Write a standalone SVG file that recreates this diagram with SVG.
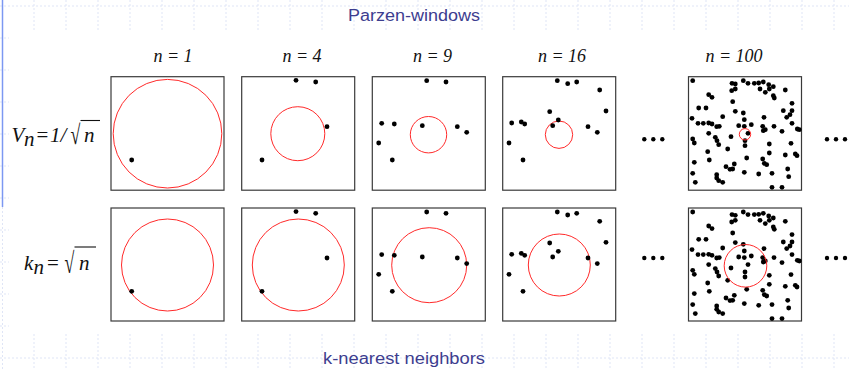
<svg xmlns="http://www.w3.org/2000/svg" xmlns:xlink="http://www.w3.org/1999/xlink" width="849" height="370" viewBox="0 0 849 370">
<style>
.grid{stroke:#dfe5f6;stroke-width:1;stroke-dasharray:2 2;fill:none}
.box{fill:#fff;stroke:#3a3a3a;stroke-width:1.2}
.win{fill:none;stroke:#ff2a2a;stroke-width:1}
.dot{fill:#000}
.title{font-family:"Liberation Sans",Arial,sans-serif;font-size:16px;fill:#3d3d8f}
.lab{font-family:"Liberation Serif","Times New Roman",serif;font-style:italic;font-size:18px;fill:#111}
.math{font-family:"Liberation Serif","Times New Roman",serif;font-size:21px;fill:#111}
.it{font-style:italic}
</style>
<defs>
<g id="d1"><circle class="dot" cx="20.7" cy="83.3" r="2.4"/></g>
<g id="d4">
<circle class="dot" cx="54.3" cy="3.6" r="2.4"/><circle class="dot" cx="74" cy="5.3" r="2.4"/>
<circle class="dot" cx="85.3" cy="50" r="2.4"/><circle class="dot" cx="20.3" cy="83.3" r="2.4"/>
</g>
<g id="d9">
<circle class="dot" cx="54.4" cy="4" r="2.4"/><circle class="dot" cx="73.7" cy="5.3" r="2.4"/>
<circle class="dot" cx="9.4" cy="46.6" r="2.4"/><circle class="dot" cx="22" cy="47.3" r="2.4"/>
<circle class="dot" cx="50" cy="49" r="2.4"/><circle class="dot" cx="85" cy="50" r="2.4"/>
<circle class="dot" cx="94.4" cy="55.6" r="2.4"/><circle class="dot" cx="6.4" cy="66.3" r="2.4"/>
<circle class="dot" cx="20" cy="83.3" r="2.4"/>
</g>
<g id="d16">
<circle class="dot" cx="54.6" cy="4" r="2.4"/><circle class="dot" cx="65" cy="7" r="2.4"/>
<circle class="dot" cx="74" cy="5.3" r="2.4"/><circle class="dot" cx="97" cy="13.3" r="2.4"/>
<circle class="dot" cx="103.3" cy="34.3" r="2.4"/><circle class="dot" cx="47" cy="35" r="2.4"/>
<circle class="dot" cx="55.6" cy="43.3" r="2.4"/><circle class="dot" cx="9" cy="46.3" r="2.4"/>
<circle class="dot" cx="18.6" cy="45.3" r="2.4"/><circle class="dot" cx="22" cy="47.3" r="2.4"/>
<circle class="dot" cx="50" cy="49" r="2.4"/><circle class="dot" cx="85.3" cy="50" r="2.4"/>
<circle class="dot" cx="94.6" cy="55.6" r="2.4"/><circle class="dot" cx="6.3" cy="66.3" r="2.4"/>
<circle class="dot" cx="20.3" cy="83.3" r="2.4"/>
</g>
<g id="d100">
<circle class="dot" cx="4.2" cy="4" r="2.4"/><circle class="dot" cx="43.5" cy="6.6" r="2.4"/>
<circle class="dot" cx="46.8" cy="7.3" r="2.4"/><circle class="dot" cx="54.8" cy="4" r="2.4"/>
<circle class="dot" cx="59.5" cy="6.6" r="2.4"/><circle class="dot" cx="65.8" cy="6.6" r="2.4"/>
<circle class="dot" cx="70.2" cy="6.3" r="2.4"/><circle class="dot" cx="74.8" cy="5.3" r="2.4"/>
<circle class="dot" cx="80.2" cy="8" r="2.4"/><circle class="dot" cx="84.8" cy="10" r="2.4"/>
<circle class="dot" cx="43.2" cy="14" r="2.4"/><circle class="dot" cx="46.8" cy="12.3" r="2.4"/>
<circle class="dot" cx="71.5" cy="12.3" r="2.4"/><circle class="dot" cx="76.8" cy="15.6" r="2.4"/>
<circle class="dot" cx="80.8" cy="12.3" r="2.4"/><circle class="dot" cx="84.8" cy="19" r="2.4"/>
<circle class="dot" cx="85.8" cy="21.3" r="2.4"/><circle class="dot" cx="96.8" cy="13.3" r="2.4"/>
<circle class="dot" cx="20.2" cy="18" r="2.4"/><circle class="dot" cx="23.5" cy="20.6" r="2.4"/>
<circle class="dot" cx="44.2" cy="25" r="2.4"/><circle class="dot" cx="103.5" cy="26.6" r="2.4"/>
<circle class="dot" cx="10.2" cy="31.3" r="2.4"/><circle class="dot" cx="17.5" cy="31.3" r="2.4"/>
<circle class="dot" cx="46.8" cy="34.6" r="2.4"/><circle class="dot" cx="54.8" cy="36.3" r="2.4"/>
<circle class="dot" cx="94.8" cy="34" r="2.4"/><circle class="dot" cx="103.5" cy="34" r="2.4"/>
<circle class="dot" cx="101.5" cy="38" r="2.4"/><circle class="dot" cx="3.5" cy="41.6" r="2.4"/>
<circle class="dot" cx="34.2" cy="40" r="2.4"/><circle class="dot" cx="55.8" cy="43" r="2.4"/>
<circle class="dot" cx="75.5" cy="40.6" r="2.4"/><circle class="dot" cx="98.2" cy="40.6" r="2.4"/>
<circle class="dot" cx="103.5" cy="46.6" r="2.4"/><circle class="dot" cx="9.5" cy="46.6" r="2.4"/>
<circle class="dot" cx="14.8" cy="46.6" r="2.4"/><circle class="dot" cx="20.2" cy="46.3" r="2.4"/>
<circle class="dot" cx="23.5" cy="47.3" r="2.4"/><circle class="dot" cx="28.2" cy="50" r="2.4"/>
<circle class="dot" cx="30.8" cy="49.6" r="2.4"/><circle class="dot" cx="50.2" cy="49" r="2.4"/>
<circle class="dot" cx="55.8" cy="49.6" r="2.4"/><circle class="dot" cx="62.8" cy="48" r="2.4"/>
<circle class="dot" cx="74.2" cy="49.6" r="2.4"/><circle class="dot" cx="76.8" cy="53" r="2.4"/>
<circle class="dot" cx="85.5" cy="49.6" r="2.4"/><circle class="dot" cx="108.8" cy="52.3" r="2.4"/>
<circle class="dot" cx="110.8" cy="53" r="2.4"/><circle class="dot" cx="20.2" cy="56.6" r="2.4"/>
<circle class="dot" cx="26.8" cy="60.6" r="2.4"/><circle class="dot" cx="42.5" cy="60" r="2.4"/>
<circle class="dot" cx="59.5" cy="56.6" r="2.4"/><circle class="dot" cx="74.8" cy="54" r="2.4"/>
<circle class="dot" cx="93.5" cy="54.6" r="2.4"/><circle class="dot" cx="4.2" cy="62.3" r="2.4"/>
<circle class="dot" cx="5.8" cy="66.3" r="2.4"/><circle class="dot" cx="28.5" cy="64" r="2.4"/>
<circle class="dot" cx="30.2" cy="68" r="2.4"/><circle class="dot" cx="56.5" cy="64" r="2.4"/>
<circle class="dot" cx="56.5" cy="69" r="2.4"/><circle class="dot" cx="80.8" cy="67.3" r="2.4"/>
<circle class="dot" cx="102.5" cy="66.6" r="2.4"/><circle class="dot" cx="39.2" cy="72.3" r="2.4"/>
<circle class="dot" cx="19.2" cy="75" r="2.4"/><circle class="dot" cx="80.8" cy="76.3" r="2.4"/>
<circle class="dot" cx="96.8" cy="78.3" r="2.4"/><circle class="dot" cx="106.8" cy="77.3" r="2.4"/>
<circle class="dot" cx="108.5" cy="79" r="2.4"/><circle class="dot" cx="20.8" cy="83.3" r="2.4"/>
<circle class="dot" cx="5.8" cy="85.6" r="2.4"/><circle class="dot" cx="58.2" cy="81.3" r="2.4"/>
<circle class="dot" cx="74.2" cy="82.3" r="2.4"/><circle class="dot" cx="75.8" cy="86.6" r="2.4"/>
<circle class="dot" cx="78.2" cy="88" r="2.4"/><circle class="dot" cx="45.8" cy="87.3" r="2.4"/>
<circle class="dot" cx="37.5" cy="90" r="2.4"/><circle class="dot" cx="44.2" cy="92.3" r="2.4"/>
<circle class="dot" cx="41.5" cy="92.6" r="2.4"/><circle class="dot" cx="55.8" cy="95.6" r="2.4"/>
<circle class="dot" cx="4.2" cy="96.6" r="2.4"/><circle class="dot" cx="28.2" cy="98" r="2.4"/>
<circle class="dot" cx="70.2" cy="97.3" r="2.4"/><circle class="dot" cx="83.5" cy="96.6" r="2.4"/>
<circle class="dot" cx="99.2" cy="92.3" r="2.4"/><circle class="dot" cx="100.2" cy="100" r="2.4"/>
<circle class="dot" cx="30.2" cy="104" r="2.4"/><circle class="dot" cx="28.2" cy="101.3" r="2.4"/>
<circle class="dot" cx="34.2" cy="105.6" r="2.4"/><circle class="dot" cx="6.8" cy="105.6" r="2.4"/>
<circle class="dot" cx="83.5" cy="110.6" r="2.4"/><circle class="dot" cx="93.5" cy="110.6" r="2.4"/>
</g>
<g id="ell"><circle class="dot" cx="0" cy="0" r="2.2"/><circle class="dot" cx="9" cy="0" r="2.2"/><circle class="dot" cx="18" cy="0" r="2.2"/></g>
</defs>

<rect x="0" y="0" width="849" height="370" fill="#fff"/>

<g id="background">
<path class="grid" d="M34 0V30M66 0V30M98 0V30M130 0V30M162 0V30M194 0V30M226 0V30M258 0V30M290 0V30M322 0V30M354 0V30M386 0V30M418 0V30M450 0V30M482 0V30M514 0V30M546 0V30M578 0V30M610 0V30M642 0V30M674 0V30M706 0V30M738 0V30M770 0V30M802 0V30M834 0V30"/>
<path class="grid" d="M34 334V370M66 334V370M98 334V370M130 334V370M162 334V370M194 334V370M226 334V370M258 334V370M290 334V370M322 334V370M354 334V370M386 334V370M418 334V370M450 334V370M482 334V370M514 334V370M546 334V370M578 334V370M610 334V370M642 334V370M674 334V370M706 334V370M738 334V370M770 334V370M802 334V370M834 334V370"/>
<path class="grid" d="M0 6H849M0 358H849M0 38H9M0 70H9M0 102H9M0 134H9M0 166H9M0 198H9M0 230H9M0 262H9M0 294H9M0 326H9"/>
<path class="grid" d="M2.5 207V370"/>
<line x1="2.5" y1="0" x2="2.5" y2="207" stroke="#7c98f2" stroke-width="1.5"/>
</g>

<g id="titles">
<text class="title" x="348" y="21" textLength="132" lengthAdjust="spacingAndGlyphs">Parzen-windows</text>
<text class="title" x="323" y="364" textLength="162" lengthAdjust="spacingAndGlyphs">k-nearest neighbors</text>
</g>

<g id="column-labels">
<text class="lab" x="173" y="62" text-anchor="middle">n = 1</text>
<text class="lab" x="302" y="62" text-anchor="middle">n = 4</text>
<text class="lab" x="432.5" y="62" text-anchor="middle">n = 9</text>
<text class="lab" x="562" y="62" text-anchor="middle">n = 16</text>
<text class="lab" x="734" y="62" text-anchor="middle">n = 100</text>
</g>

<g id="row-label-parzen">
<text class="math it" x="11.5" y="141.5" font-size="22">V</text>
<text class="math it" x="24" y="145.5" font-size="14">n</text>
<text class="math" x="36.5" y="141.5">=</text>
<text class="math it" x="50" y="141.5">1/</text>
<text class="math" transform="translate(70.5,143.5) scale(0.85,1.3)">√</text>
<line x1="80.5" y1="120.5" x2="100" y2="120.5" stroke="#111" stroke-width="1.1"/>
<text class="math it" x="84" y="141.5">n</text>
</g>

<g id="row-label-knn">
<text class="math it" x="24" y="270">k</text>
<text class="math it" x="33.5" y="274" font-size="14">n</text>
<text class="math" x="47" y="270">=</text>
<text class="math" transform="translate(64.5,273) scale(0.85,1.4)">√</text>
<line x1="74.5" y1="247" x2="96" y2="247" stroke="#111" stroke-width="1.1"/>
<text class="math it" x="79" y="270">n</text>
</g>

<g id="parzen-n1" transform="translate(111,76.7)"><rect class="box" width="113" height="113.5"/><circle class="win" cx="56.5" cy="57" r="54.3"/><use xlink:href="#d1"/></g>
<g id="parzen-n4" transform="translate(241.7,76.7)"><rect class="box" width="113" height="113.5"/><circle class="win" cx="56.1" cy="57" r="27"/><use xlink:href="#d4"/></g>
<g id="parzen-n9" transform="translate(372.3,76.7)"><rect class="box" width="113" height="113.5"/><circle class="win" cx="56.2" cy="58" r="18.2"/><use xlink:href="#d9"/></g>
<g id="parzen-n16" transform="translate(502.7,76.7)"><rect class="box" width="113" height="113.5"/><circle class="win" cx="56.3" cy="58" r="13.7"/><use xlink:href="#d16"/></g>
<g id="parzen-n100" transform="translate(688.5,76.7)"><rect class="box" width="113" height="113.5"/><use xlink:href="#d100"/><circle class="win" cx="56.5" cy="57.6" r="5.7"/></g>

<g id="knn-n1" transform="translate(111,208)"><rect class="box" width="113" height="113"/><circle class="win" cx="56.5" cy="57" r="46"/><use xlink:href="#d1"/></g>
<g id="knn-n4" transform="translate(241.7,208)"><rect class="box" width="113" height="113"/><circle class="win" cx="56.6" cy="57" r="46"/><use xlink:href="#d4"/></g>
<g id="knn-n9" transform="translate(372.3,208)"><rect class="box" width="113" height="113"/><circle class="win" cx="56.9" cy="57.2" r="37.5"/><use xlink:href="#d9"/></g>
<g id="knn-n16" transform="translate(502.7,208)"><rect class="box" width="113" height="113"/><circle class="win" cx="56.6" cy="57" r="31"/><use xlink:href="#d16"/></g>
<g id="knn-n100" transform="translate(688.5,208)"><rect class="box" width="113" height="113"/><use xlink:href="#d100"/><circle class="win" cx="57" cy="57.8" r="21.3"/></g>

<g id="ellipses">
<use xlink:href="#ell" x="644.3" y="139.3"/>
<use xlink:href="#ell" x="827" y="139.3"/>
<use xlink:href="#ell" x="644.3" y="258"/>
<use xlink:href="#ell" x="827" y="258"/>
</g>
</svg>
